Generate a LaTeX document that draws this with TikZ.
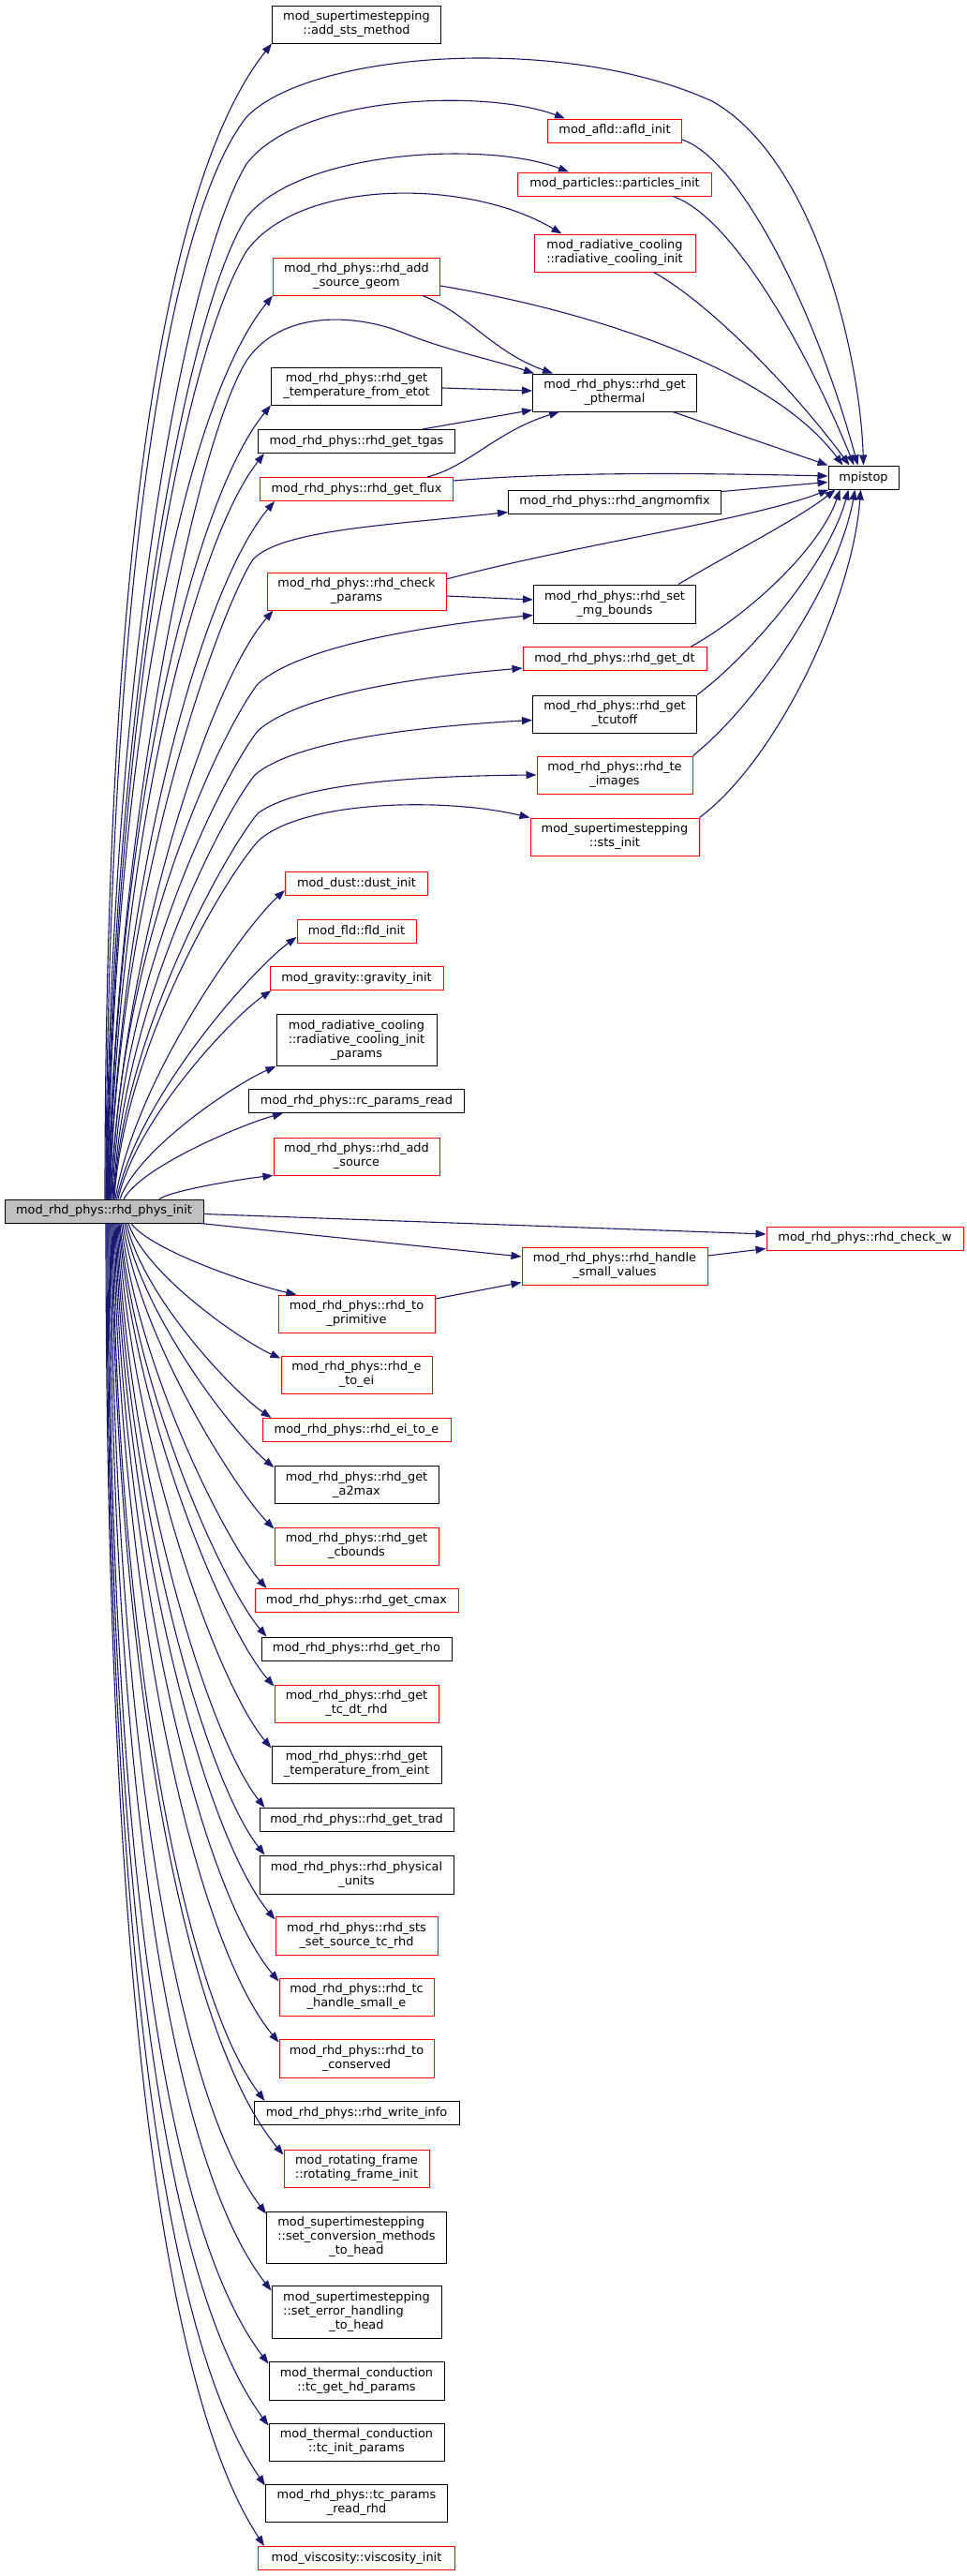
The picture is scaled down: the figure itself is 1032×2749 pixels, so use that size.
\documentclass[tikz,border=0pt]{standalone}
\usepackage{fontspec}
\setmainfont{DejaVu Sans}
\usepackage{calc}
\usetikzlibrary{arrows.meta,calc}
\definecolor{edgeblue}{HTML}{191970}
\definecolor{rootgray}{HTML}{BFBFBF}
\newcommand\nodefont{\fontsize{12.9}{15}\selectfont}
\begin{document}
\begin{tikzpicture}[x=1pt,y=-1pt,
  box/.style={draw=black, line width=1pt, fill=white, inner sep=0pt, minimum height=25pt, align=center, font=\nodefont},
  rbox/.style={box, draw=red},
  e/.style={draw=edgeblue, line width=1.1pt, -{Triangle[length=11pt,width=8pt]}},
  curv/.style={to path={let \p1=(\tikztostart), \p2=(\tikztotarget),
      \n1={min(max((abs(\y2-(\y1))-330)/904,0),1)} in
      .. controls ({\x1+(0.12-0.12*\n1)*(\x2-(\x1))},{\y1+(0.39+0.16*\n1)*(\y2-(\y1))})
      and ({\x2-(0.24+0.42*\n1)*(\x2-(\x1))},{\y2-0.12*(\y2-(\y1))}) .. (\tikztotarget)}}
]
\fill[white] (0,0) rectangle (1032,2749);
\useasboundingbox (0,0) rectangle (1032,2749);

% ---------- nodes ----------
\node[box,minimum width=180pt,minimum height=40pt] (addsts) at (380.5,26) {mod\_supertimestepping\\::add\_sts\_method};
\node[rbox,minimum width=143pt] (afld) at (656,139.5) {mod\_afld::afld\_init};
\node[rbox,minimum width=207pt] (part) at (656,196.5) {mod\_particles::particles\_init};
\node[rbox,minimum width=172pt,minimum height=40pt] (radc) at (656,270) {mod\_radiative\_cooling\\::radiative\_cooling\_init};
\node[rbox,minimum width=178pt,minimum height=40pt] (asg) at (380.5,295) {mod\_rhd\_phys::rhd\_add\\\_source\_geom};
\node[box,minimum width=182pt,minimum height=40pt] (etot) at (380.5,412) {mod\_rhd\_phys::rhd\_get\\\_temperature\_from\_etot};
\node[box,minimum width=175pt,minimum height=40pt] (pth) at (656,419) {mod\_rhd\_phys::rhd\_get\\\_pthermal};
\node[box,minimum width=210pt] (tgas) at (380.5,471) {mod\_rhd\_phys::rhd\_get\_tgas};
\node[rbox,minimum width=206pt] (flux) at (380.5,522) {mod\_rhd\_phys::rhd\_get\_flux};
\node[box,minimum width=75pt] (mpi) at (921.5,509.5) {mpistop};
\node[box,minimum width=227pt] (ang) at (656,535.5) {mod\_rhd\_phys::rhd\_angmomfix};
\node[rbox,minimum width=191pt,minimum height=40pt] (chk) at (380.5,631) {mod\_rhd\_phys::rhd\_check\\\_params};
\node[box,minimum width=173pt,minimum height=41pt] (mg) at (656,644.5) {mod\_rhd\_phys::rhd\_set\\\_mg\_bounds};
\node[rbox,minimum width=196pt] (dt) at (656,703) {mod\_rhd\_phys::rhd\_get\_dt};
\node[box,minimum width=175pt,minimum height=40pt] (tcut) at (656,762) {mod\_rhd\_phys::rhd\_get\\\_tcutoff};
\node[rbox,minimum width=166pt,minimum height=40pt] (teim) at (656,827) {mod\_rhd\_phys::rhd\_te\\\_images};
\node[rbox,minimum width=180pt,minimum height=40pt] (stsi) at (656,893) {mod\_supertimestepping\\::sts\_init};
\node[rbox,minimum width=152pt] (dust) at (380.5,943) {mod\_dust::dust\_init};
\node[rbox,minimum width=127pt] (fld) at (380.5,994) {mod\_fld::fld\_init};
\node[rbox,minimum width=185pt] (grav) at (380.5,1044) {mod\_gravity::gravity\_init};
\node[box,minimum width=171pt,minimum height=55pt] (rcip) at (380.5,1110) {mod\_radiative\_cooling\\::radiative\_cooling\_init\\\_params};
\node[box,minimum width=230pt] (rcpr) at (380.5,1175) {mod\_rhd\_phys::rc\_params\_read};
\node[rbox,minimum width=177pt,minimum height=40pt] (asrc) at (380.5,1234) {mod\_rhd\_phys::rhd\_add\\\_source};
\node[box,fill=rootgray,minimum width=212pt] (root) at (111,1292.5) {mod\_rhd\_phys::rhd\_phys\_init};
\node[rbox,minimum width=210pt] (chkw) at (923,1321.5) {mod\_rhd\_phys::rhd\_check\_w};
\node[rbox,minimum width=198pt,minimum height=40pt] (hsv) at (656,1351) {mod\_rhd\_phys::rhd\_handle\\\_small\_values};
\node[rbox,minimum width=167pt,minimum height=40pt] (tprim) at (380.5,1402) {mod\_rhd\_phys::rhd\_to\\\_primitive};
\node[rbox,minimum width=161pt,minimum height=40pt] (etoei) at (380.5,1467) {mod\_rhd\_phys::rhd\_e\\\_to\_ei};
\node[rbox,minimum width=201pt] (eitoe) at (380.5,1526) {mod\_rhd\_phys::rhd\_ei\_to\_e};
\node[box,minimum width=175pt,minimum height=40pt] (a2m) at (380.5,1584.5) {mod\_rhd\_phys::rhd\_get\\\_a2max};
\node[rbox,minimum width=175pt,minimum height=40pt] (cbd) at (380.5,1650) {mod\_rhd\_phys::rhd\_get\\\_cbounds};
\node[rbox,minimum width=217pt] (cmax) at (380.5,1708) {mod\_rhd\_phys::rhd\_get\_cmax};
\node[box,minimum width=203pt] (rho) at (380.5,1759.5) {mod\_rhd\_phys::rhd\_get\_rho};
\node[rbox,minimum width=175pt,minimum height=40pt] (tcdt) at (380.5,1818) {mod\_rhd\_phys::rhd\_get\\\_tc\_dt\_rhd};
\node[box,minimum width=181pt,minimum height=40pt] (teint) at (380.5,1883) {mod\_rhd\_phys::rhd\_get\\\_temperature\_from\_eint};
\node[box,minimum width=207pt] (trad) at (380.5,1942) {mod\_rhd\_phys::rhd\_get\_trad};
\node[box,minimum width=207pt,minimum height=41pt] (units) at (380.5,2000.5) {mod\_rhd\_phys::rhd\_physical\\\_units};
\node[rbox,minimum width=173pt,minimum height=41pt] (stss) at (380.5,2065.5) {mod\_rhd\_phys::rhd\_sts\\\_set\_source\_tc\_rhd};
\node[rbox,minimum width=165pt,minimum height=40pt] (tchs) at (380.5,2131) {mod\_rhd\_phys::rhd\_tc\\\_handle\_small\_e};
\node[rbox,minimum width=165pt,minimum height=41pt] (tcons) at (380.5,2196.5) {mod\_rhd\_phys::rhd\_to\\\_conserved};
\node[box,minimum width=219pt] (winfo) at (380.5,2255) {mod\_rhd\_phys::rhd\_write\_info};
\node[rbox,minimum width=155pt,minimum height=40pt] (rot) at (380.5,2314) {mod\_rotating\_frame\\::rotating\_frame\_init};
\node[box,minimum width=192pt,minimum height=55pt] (sconv) at (380.5,2387.5) {\makebox[\widthof{::set\_conversion\_methods}][l]{mod\_supertimestepping}\\::set\_conversion\_methods\\\_to\_head};
\node[box,minimum width=181pt,minimum height=56pt] (serr) at (380.5,2467) {mod\_supertimestepping\\\makebox[\widthof{mod\_supertimestepping}][l]{::set\_error\_handling}\\\_to\_head};
\node[box,minimum width=187pt,minimum height=41pt] (tcgh) at (380.5,2540.5) {mod\_thermal\_conduction\\::tc\_get\_hd\_params};
\node[box,minimum width=187pt,minimum height=40pt] (tcin) at (380.5,2606) {mod\_thermal\_conduction\\::tc\_init\_params};
\node[box,minimum width=194pt,minimum height=40pt] (tcpr) at (380.5,2671) {mod\_rhd\_phys::tc\_params\\\_read\_rhd};
\node[rbox,minimum width=210pt] (visc) at (380.5,2730) {mod\_viscosity::viscosity\_init};

% ---------- edges from root: middle column, upward ----------
\draw[e] ([xshift=1pt]root.north) to[curv] (addsts.south west);
\draw[e] ([xshift=4pt]root.north) to[curv] (asg.south west);
\draw[e] ([xshift=5pt]root.north) to[curv] (etot.south west);
\draw[e] ([xshift=5.5pt]root.north) to[curv] ([xshift=7pt]tgas.south west);
\draw[e] ([xshift=6pt]root.north) to[curv] ([xshift=16pt]flux.south west);
\draw[e] ([xshift=7pt]root.north) to[curv] ([xshift=7pt]chk.south west);
\draw[e] ([xshift=12pt]root.north) to[curv] ([yshift=6pt]dust.south west);
\draw[e] ([xshift=13.5pt]root.north) to[curv] ([yshift=7pt]fld.south west);
\draw[e] ([xshift=15pt]root.north) to[curv] ([xshift=2pt]grav.south west);
\draw[e] ([xshift=17pt]root.north) to[curv] (rcip.south west);
\draw[e] ([xshift=21pt]root.north) to[curv] ([xshift=37pt]rcpr.south west);
\draw[e] ([xshift=59pt]root.north) to[curv] (asrc.south west);

% ---------- edges from root: downward ----------
\draw[e] ([xshift=29pt]root.south) to[curv] ([xshift=20pt]tprim.north west);
\draw[e] ([xshift=26pt]root.south) to[curv] ([yshift=-3pt]etoei.north west);
\draw[e] ([xshift=24pt]root.south) to[curv] ([xshift=10pt]eitoe.north west);
\draw[e] ([xshift=22pt]root.south) to[curv] ([yshift=-2pt]a2m.north west);
\draw[e] ([xshift=20pt]root.south) to[curv] ([yshift=-2pt]cbd.north west);
\draw[e] ([xshift=18.5pt]root.south) to[curv] ([xshift=13pt]cmax.north west);
\draw[e] ([xshift=17pt]root.south) to[curv] ([xshift=6pt]rho.north west);
\draw[e] ([xshift=16pt]root.south) to[curv] ([yshift=-2pt]tcdt.north west);
\draw[e] ([xshift=15pt]root.south) to[curv] ([yshift=-3pt]teint.north west);
\draw[e] ([xshift=14pt]root.south) to[curv] ([xshift=6pt]trad.north west);
\draw[e] ([xshift=13pt]root.south) to[curv] ([xshift=6pt]units.north west);
\draw[e] ([xshift=12pt]root.south) to[curv] ([yshift=-4pt]stss.north west);
\draw[e] ([xshift=11pt]root.south) to[curv] ([yshift=-4pt]tchs.north west);
\draw[e] ([xshift=10pt]root.south) to[curv] ([yshift=-4pt]tcons.north west);
\draw[e] ([xshift=9pt]root.south) to[curv] ([xshift=12pt]winfo.north west);
\draw[e] ([xshift=8pt]root.south) to[curv] ([yshift=-6pt]rot.north west);
\draw[e] ([xshift=7pt]root.south) to[curv] ([yshift=-3pt]sconv.north west);
\draw[e] ([xshift=6pt]root.south) to[curv] ([yshift=-6pt]serr.north west);
\draw[e] ([xshift=5pt]root.south) to[curv] ([yshift=-3pt]tcgh.north west);
\draw[e] ([xshift=4pt]root.south) to[curv] ([yshift=-3pt]tcin.north west);
\draw[e] ([xshift=3pt]root.south) to[curv] ([yshift=-2pt]tcpr.north west);
\draw[e] ([xshift=2pt]root.south) to[curv] ([xshift=7pt]visc.north west);

% ---------- arches from root ----------
\draw[e] ([xshift=2pt]root.north) .. controls (115,620) and (180,230) .. (263,125) .. controls (330,55) and (600,35) .. (760,108) .. controls (870,170) and (918,380) .. (mpi.north);
\draw[e] ([xshift=2.5pt]root.north) .. controls (117,700) and (200,280) .. (263,175) .. controls (320,100) and (520,95) .. ([xshift=19pt]afld.north west);
\draw[e] ([xshift=3pt]root.north) .. controls (119,750) and (200,330) .. (263,232) .. controls (320,160) and (520,150) .. ([xshift=55pt]part.north west);
\draw[e] ([xshift=3.5pt]root.north) .. controls (121,800) and (190,390) .. (263,268) .. controls (320,190) and (500,190) .. ([xshift=30pt]radc.north west);
\draw[e] ([xshift=4.5pt]root.north) .. controls (123,900) and (205,480) .. (263,385) .. controls (300,330) and (380,335) .. (430,355) .. controls (480,375) and (530,385) .. ([xshift=2pt]pth.north west);

% ---------- root to right column ----------
\draw[e] ([xshift=6.5pt]root.north) .. controls (125,950) and (235,650) .. (270,597) .. controls (300,565) and (420,560) .. ([yshift=2pt]ang.south west);
\draw[e] ([xshift=8pt]root.north) .. controls (127,1000) and (240,775) .. (275,730) .. controls (320,690) and (450,668) .. ([yshift=9pt]mg.south west);
\draw[e] ([xshift=9pt]root.north) .. controls (128,1040) and (240,825) .. (275,780) .. controls (320,740) and (450,722) .. ([yshift=3pt]dt.south west);
\draw[e] ([xshift=10pt]root.north) .. controls (129,1080) and (237,870) .. (272,827) .. controls (315,790) and (450,775) .. ([yshift=14pt]tcut.south west);
\draw[e] ([xshift=10.5pt]root.north) .. controls (130,1110) and (237,915) .. (275,868) .. controls (320,835) and (450,828) .. (teim.west);
\draw[e] ([xshift=11pt]root.north) .. controls (131,1130) and (230,950) .. (275,898) .. controls (320,855) and (470,850) .. (stsi.north west);

% ---------- other edges ----------
\draw[e] ([xshift=-19pt]asg.south east) .. controls (500,335) and (525,375) .. ([xshift=22pt]pth.north west);
\draw[e] ([yshift=-10pt]asg.east) .. controls (620,330) and (820,390) .. ([xshift=-22pt]mpi.north);
\draw[e] ([yshift=-2pt]etot.east) -- ([yshift=2pt]pth.west);
\draw[e] ([xshift=-35pt]tgas.north east) -- ([yshift=2pt]pth.south west);
\draw[e] ([xshift=-28pt]flux.north east) .. controls (500,498) and (530,460) .. ([xshift=29pt]pth.south west);
\draw[e] ([yshift=9pt]flux.east) .. controls (600,503) and (760,505) .. ([yshift=1.5pt]mpi.west);
\draw[e] ([xshift=-26pt]pth.south east) -- (mpi.north west);
\draw[e] ([yshift=11pt]ang.east) -- ([yshift=-5pt]mpi.west);
\draw[e] ([yshift=13pt]chk.east) .. controls (620,580) and (800,555) .. ([xshift=1pt]mpi.south west);
\draw[e] ([yshift=-5pt]chk.east) -- ([yshift=4.5pt]mg.west);
\draw[e] ([xshift=-19pt]mg.north east) .. controls (780,590) and (850,555) .. ([xshift=-30pt]mpi.south);
\draw[e] ([xshift=-17pt]dt.north east) .. controls (800,655) and (875,585) .. ([xshift=-25pt]mpi.south);
\draw[e] (tcut.north east) .. controls (800,700) and (885,600) .. ([xshift=-16pt]mpi.south);
\draw[e] (teim.north east) .. controls (810,750) and (895,620) .. ([xshift=-9pt]mpi.south);
\draw[e] (stsi.north east) .. controls (830,810) and (910,640) .. ([xshift=-3pt]mpi.south);
\draw[e] ([yshift=-9.5pt]afld.east) .. controls (790,170) and (870,330) .. ([xshift=-6pt]mpi.north);
\draw[e] ([xshift=-42pt]part.south east) .. controls (780,230) and (860,370) .. ([xshift=-10pt]mpi.north);
\draw[e] ([xshift=-45pt]radc.south east) .. controls (760,325) and (850,420) .. ([xshift=-15pt]mpi.north);
\draw[e] ([yshift=-3pt]root.east) -- ([yshift=4.5pt]chkw.west);
\draw[e] ([xshift=-4pt]root.south east) -- ([yshift=10pt]hsv.west);
\draw[e] ([yshift=16pt]tprim.east) -- ([yshift=3pt]hsv.south west);
\draw[e] ([yshift=11pt]hsv.east) -- ([yshift=2pt]chkw.south west);
\end{tikzpicture}
\end{document}
